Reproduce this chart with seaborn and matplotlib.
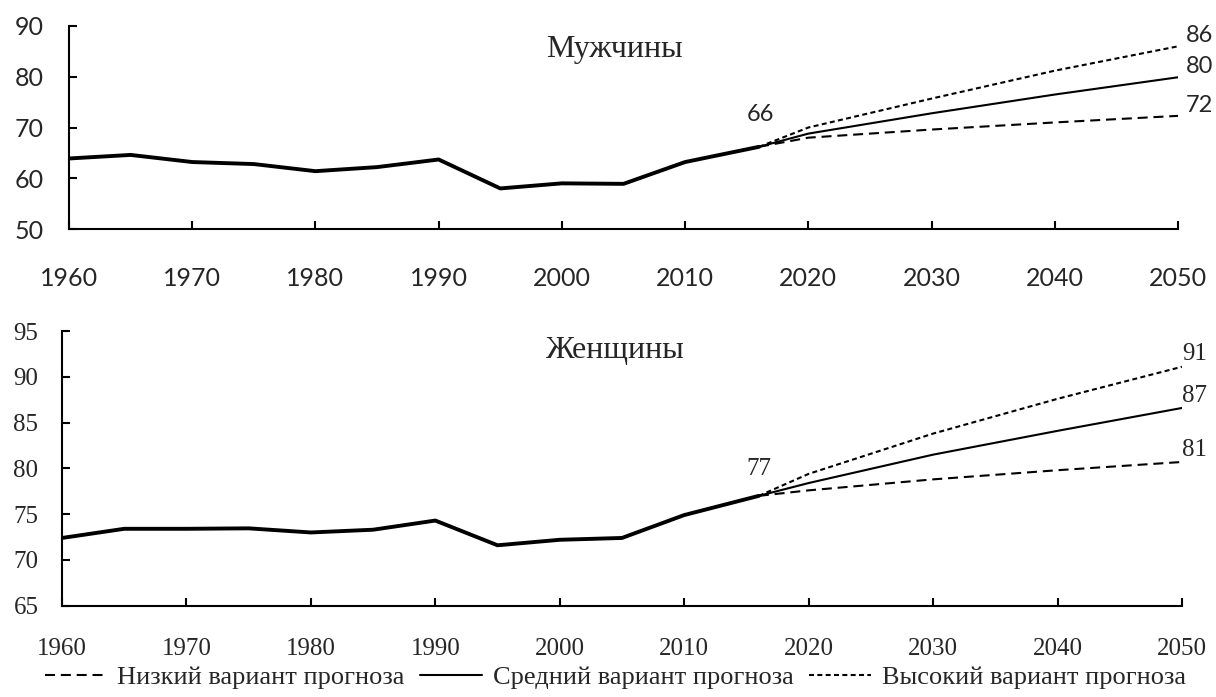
import numpy as np
import pandas as pd
import matplotlib
matplotlib.use('Agg')
import matplotlib.pyplot as plt
from matplotlib.lines import Line2D
import seaborn as sns

# historical life expectancy
hist_years = [1960, 1965, 1970, 1975, 1980, 1985, 1990, 1995, 2000, 2005, 2010, 2016]
men_hist = [63.9, 64.6, 63.2, 62.8, 61.4, 62.2, 63.7, 58.0, 59.0, 58.9, 63.2, 66.2]
women_hist = [72.4, 73.4, 73.4, 73.45, 73.0, 73.3, 74.3, 71.6, 72.2, 72.4, 74.9, 77.0]

# forecasts
fc_years = [2016, 2020, 2030, 2040, 2050]
men_low = [66.2, 68.0, 69.6, 71.0, 72.3]
men_mid = [66.2, 68.8, 72.8, 76.5, 79.9]
men_high = [66.2, 70.0, 75.7, 81.2, 86.0]
women_low = [77.0, 77.6, 78.8, 79.8, 80.7]
women_mid = [77.0, 78.4, 81.5, 84.1, 86.6]
women_high = [77.0, 79.4, 83.8, 87.6, 91.1]

legend_labels = ['Низкий вариант прогноза', 'Средний вариант прогноза', 'Высокий вариант прогноза']
panel_titles = ['Мужчины', 'Женщины']

sns.set_style('white')
SANS = ['Lato', 'DejaVu Sans']
SERIF = ['Liberation Serif', 'DejaVu Serif']
plt.rcParams['font.family'] = SERIF

LOW_DASH = (0, (4.8, 2.8))
HIGH_DASH = (0, (2.4, 1.6))

fig = plt.figure(figsize=(12.16, 6.97), dpi=100)
ax1 = fig.add_axes([0.0567, 0.6714, 0.9121, 0.2913])
ax2 = fig.add_axes([0.051, 0.131, 0.921, 0.394])


def draw_panel(ax, hist, low, mid, high):
    sns.lineplot(x=hist_years, y=hist, ax=ax, color='black', linewidth=2.8)
    sns.lineplot(x=fc_years, y=low, ax=ax, color='black', linewidth=1.5, linestyle=LOW_DASH)
    sns.lineplot(x=fc_years, y=mid, ax=ax, color='black', linewidth=1.5)
    sns.lineplot(x=fc_years, y=high, ax=ax, color='black', linewidth=1.5, linestyle=HIGH_DASH)
    ax.set_xlim(1960, 2050)
    ax.set_xticks(np.arange(1960, 2051, 10))
    for s in ['top', 'right']:
        ax.spines[s].set_visible(False)
    for s in ['left', 'bottom']:
        ax.spines[s].set_color('black')
        ax.spines[s].set_linewidth(1.5)
    ax.tick_params(bottom=True, left=True, direction='in', length=6, width=1.5, color='black')
    ax.set_xlabel('')
    ax.set_ylabel('')


# top panel - men
draw_panel(ax1, men_hist, men_low, men_mid, men_high)
ax1.set_ylim(50, 90)
ax1.set_yticks(np.arange(50, 91, 10))
ax1.tick_params(axis='x', pad=27, labelsize=18)
ax1.tick_params(axis='y', pad=18, labelsize=18)
for lab in ax1.get_xticklabels() + ax1.get_yticklabels():
    lab.set_family(SANS)
ax1.text(2004.3, 83.9, panel_titles[0], ha='center', va='baseline', fontsize=23, family=SERIF)
ax1.text(2016.1, 71.3, str(round(men_hist[-1])), ha='center', va='baseline', fontsize=17, family=SANS)
for v in [men_high, men_mid, men_low]:
    ax1.text(2050.6, v[-1] + 0.8, str(round(v[-1])), ha='left', va='baseline', fontsize=17,
             family=SANS, clip_on=False)

# bottom panel - women
draw_panel(ax2, women_hist, women_low, women_mid, women_high)
ax2.set_ylim(65, 95)
ax2.set_yticks(np.arange(65, 96, 5))
ax2.tick_params(axis='x', pad=23, labelsize=18)
ax2.tick_params(axis='y', pad=17, labelsize=18)
ax2.text(2004.4, 92.05, panel_titles[1], ha='center', va='baseline', fontsize=23, family=SERIF)
ax2.text(2016.0, 79.3, str(round(women_hist[-1])), ha='center', va='baseline', fontsize=18, family=SERIF)
for v in [women_high, women_mid, women_low]:
    ax2.text(2050.0, v[-1] + 0.7, str(round(v[-1])), ha='left', va='baseline', fontsize=18,
             family=SERIF, clip_on=False)

handles = [
    Line2D([], [], color='black', linewidth=1.5, linestyle=LOW_DASH),
    Line2D([], [], color='black', linewidth=1.5),
    Line2D([], [], color='black', linewidth=1.5, linestyle=HIGH_DASH),
]
fig.legend(handles, legend_labels, loc='center', bbox_to_anchor=(0.506, 0.028), ncol=3,
           frameon=False, handlelength=2.35, handletextpad=0.4, columnspacing=0.6,
           borderpad=0, prop={'family': SERIF, 'size': 19})

fig.savefig('out.png', dpi=100)
